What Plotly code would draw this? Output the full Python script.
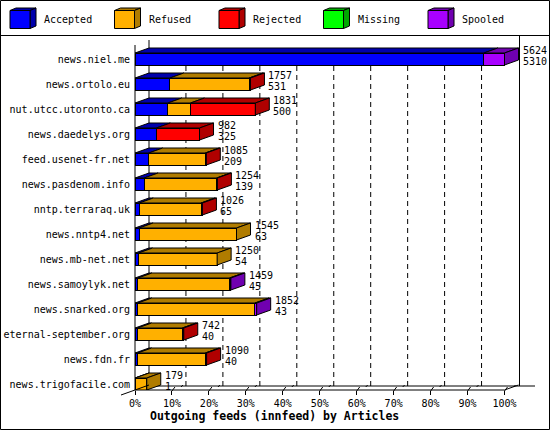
import plotly.graph_objects as go

# feeds, top to bottom
hosts = ["news.niel.me", "news.ortolo.eu", "nut.utcc.utoronto.ca", "news.daedelys.org",
         "feed.usenet-fr.net", "news.pasdenom.info", "nntp.terraraq.uk", "news.nntp4.net",
         "news.mb-net.net", "news.samoylyk.net", "news.snarked.org", "eternal-september.org",
         "news.fdn.fr", "news.trigofacile.com"]
accepted = [5310, 531, 500, 325, 209, 139, 65, 63, 54, 45, 43, 40, 40, 1]
refused = [0, 1206, 345, 0, 861, 1103, 940, 1482, 1196, 1394, 1783, 680, 1030, 178]
rejected = [0, 20, 986, 657, 15, 12, 21, 0, 0, 0, 0, 22, 20, 0]
missing = [0] * 14
spooled = [314, 0, 0, 0, 0, 0, 0, 0, 0, 20, 26, 0, 0, 0]
tick_vals = [0, 10, 20, 30, 40, 50, 60, 70, 80, 90, 100]

series = [("Accepted", accepted, "#0000FF", "#0000AC"),
          ("Refused", refused, "#FFB000", "#B07C00"),
          ("Rejected", rejected, "#FF0000", "#B00000"),
          ("Missing", missing, "#00FF00", "#00A800"),
          ("Spooled", spooled, "#A800FF", "#7000B0")]

totals = [sum(s[1][i] for s in series) for i in range(len(hosts))]
top = max(totals)
pct = lambda v: v / top * 100.0

# pixel geometry of the page
W, H = 550, 430
L, R = 135, 536
T, B = 36, 390
PW, PH = R - L, B - T
SX = 369.5 / 100.0          # px per percent
ROW = 25.0                  # px per row
DX = 14 / SX                # depth in percent
DY = -5 / ROW               # depth in rows (up)
H2 = 6 / ROW                # half bar height
FONT = "DejaVu Sans Mono"

def X(px):
    return (px - L) / PW

def Y(py):
    return (B - py) / PH

fig = go.Figure()

# front faces
for name, vals, col, dark in series:
    fig.add_trace(go.Bar(
        y=list(range(len(hosts))), x=[pct(v) if v else None for v in vals],
        orientation="h", width=2 * H2, name=name,
        marker=dict(color=col, line=dict(color="black", width=1)),
        hoverinfo="skip", showlegend=False))

# top and side faces
tops = {s[0]: [] for s in series}
sides = {s[0]: [] for s in series}
for i in range(len(hosts)):
    x0 = 0.0
    last = None
    for name, vals, col, dark in series:
        v = vals[i]
        if not v:
            continue
        x1 = x0 + pct(v)
        tops[name].append([(x0, i - H2), (x1, i - H2), (x1 + DX, i - H2 + DY), (x0 + DX, i - H2 + DY)])
        last = (name, x1)
        x0 = x1
    name, x1 = last
    sides[name].append([(x1, i - H2), (x1 + DX, i - H2 + DY), (x1 + DX, i + H2 + DY), (x1, i + H2)])

for name, vals, col, dark in series:
    for polys in (tops[name], sides[name]):
        if not polys:
            continue
        xs, ys = [], []
        for p in polys:
            xs += [q[0] for q in p] + [p[0][0], None]
            ys += [q[1] for q in p] + [p[0][1], None]
        fig.add_trace(go.Scatter(x=xs, y=ys, mode="lines", fill="toself", fillcolor=dark,
                                 line=dict(color="black", width=1), hoverinfo="skip",
                                 showlegend=False))

# value labels: total over accepted
for i in range(len(hosts)):
    xe = pct(totals[i]) + DX
    fig.add_annotation(x=xe, y=i - 9 / ROW, text=str(totals[i]), showarrow=False,
                       xanchor="left", xshift=2, font=dict(family=FONT, size=10, color="black"))
    fig.add_annotation(x=xe, y=i + 2 / ROW, text=str(accepted[i]), showarrow=False,
                       xanchor="left", xshift=2, font=dict(family=FONT, size=10, color="black"))

shapes = []

def line(x0, y0, x1, y1, dash=None, layer="above"):
    shapes.append(dict(type="line", xref="paper", yref="paper", x0=X(x0), y0=Y(y0),
                       x1=X(x1), y1=Y(y1), layer=layer,
                       line=dict(color="black", width=1, dash=dash)))

# dashed back grid
for t in tick_vals[1:-1]:
    gx = L + t * SX + 14
    line(gx, 48, gx, 386, dash="5px,4px", layer="below")

# frame of the 3d box
line(135, 45, 135, 390)
line(149, 40, 149, 386, layer="below")
line(135, 390, L + 100 * SX, 390)
line(149, 386, 535, 386, layer="below")
line(519.5, 35, 519.5, 386, layer="below")
line(121, 395, 149, 385)
line(L + 100 * SX, 390, L + 100 * SX + 14, 385)
for t in tick_vals[1:]:
    tx = L + t * SX
    line(tx, 391, tx + 3, 387)
    line(tx + 9, 387, tx + 11, 385)

# page border and legend separator
shapes.append(dict(type="rect", xref="paper", yref="paper", x0=X(0.5), y0=Y(0.5),
                   x1=X(549.5), y1=Y(429.5), line=dict(color="black", width=1)))
line(0, 35.5, 550, 35.5)

# legend with little cubes
for k, (name, vals, col, dark) in enumerate(series):
    x0 = 10 + 104.5 * k
    front = f"M{X(x0)},{Y(10.5)} L{X(x0 + 20)},{Y(10.5)} L{X(x0 + 20)},{Y(28.5)} L{X(x0)},{Y(28.5)} Z"
    topf = f"M{X(x0)},{Y(10.5)} L{X(x0 + 6)},{Y(8)} L{X(x0 + 26)},{Y(8)} L{X(x0 + 20)},{Y(10.5)} Z"
    side = f"M{X(x0 + 20)},{Y(10.5)} L{X(x0 + 26)},{Y(8)} L{X(x0 + 26)},{Y(26)} L{X(x0 + 20)},{Y(28.5)} Z"
    for path, c in ((topf, dark), (side, dark), (front, col)):
        shapes.append(dict(type="path", xref="paper", yref="paper", path=path,
                           fillcolor=c, line=dict(color="black", width=1)))
    fig.add_annotation(xref="paper", yref="paper", x=X(x0 + 32), y=Y(20), text=name,
                       showarrow=False, xanchor="left", yanchor="middle",
                       font=dict(family=FONT, size=10, color="black"))

# x axis title
fig.add_annotation(xref="paper", yref="paper", x=X(274), y=Y(416),
                   text="<b>Outgoing feeds (innfeed) by Articles</b>", showarrow=False,
                   xanchor="center", yanchor="middle",
                   font=dict(family=FONT, size=11.5, color="black"))

fig.update_layout(
    width=W, height=H, barmode="stack",
    margin=dict(l=L, r=W - R, t=T, b=H - B, pad=0, autoexpand=False),
    paper_bgcolor="white", plot_bgcolor="white",
    shapes=shapes, showlegend=False,
    xaxis=dict(range=[0, PW / SX], tickvals=tick_vals, ticktext=[f"{t}%" for t in tick_vals],
               ticks="outside", ticklen=4, tickcolor="black", showgrid=False, zeroline=False,
               showline=False, automargin=False,
               tickfont=dict(family=FONT, size=10, color="black"), fixedrange=True),
    yaxis=dict(range=[(B - 59) / ROW, (T - 59) / ROW], tickvals=list(range(len(hosts))),
               ticktext=hosts, ticks="", showgrid=False, zeroline=False, showline=False,
               automargin=False, ticklabelstandoff=4,
               tickfont=dict(family=FONT, size=10, color="black"), fixedrange=True),
)

fig.write_html("out.html", config={"displayModeBar": False})

# page without the default body margin
with open("out.html", encoding="utf-8") as f:
    page = f.read()
page = page.replace("<body>", '<body style="margin:0;overflow:hidden">', 1)
with open("out.html", "w", encoding="utf-8") as f:
    f.write(page)
